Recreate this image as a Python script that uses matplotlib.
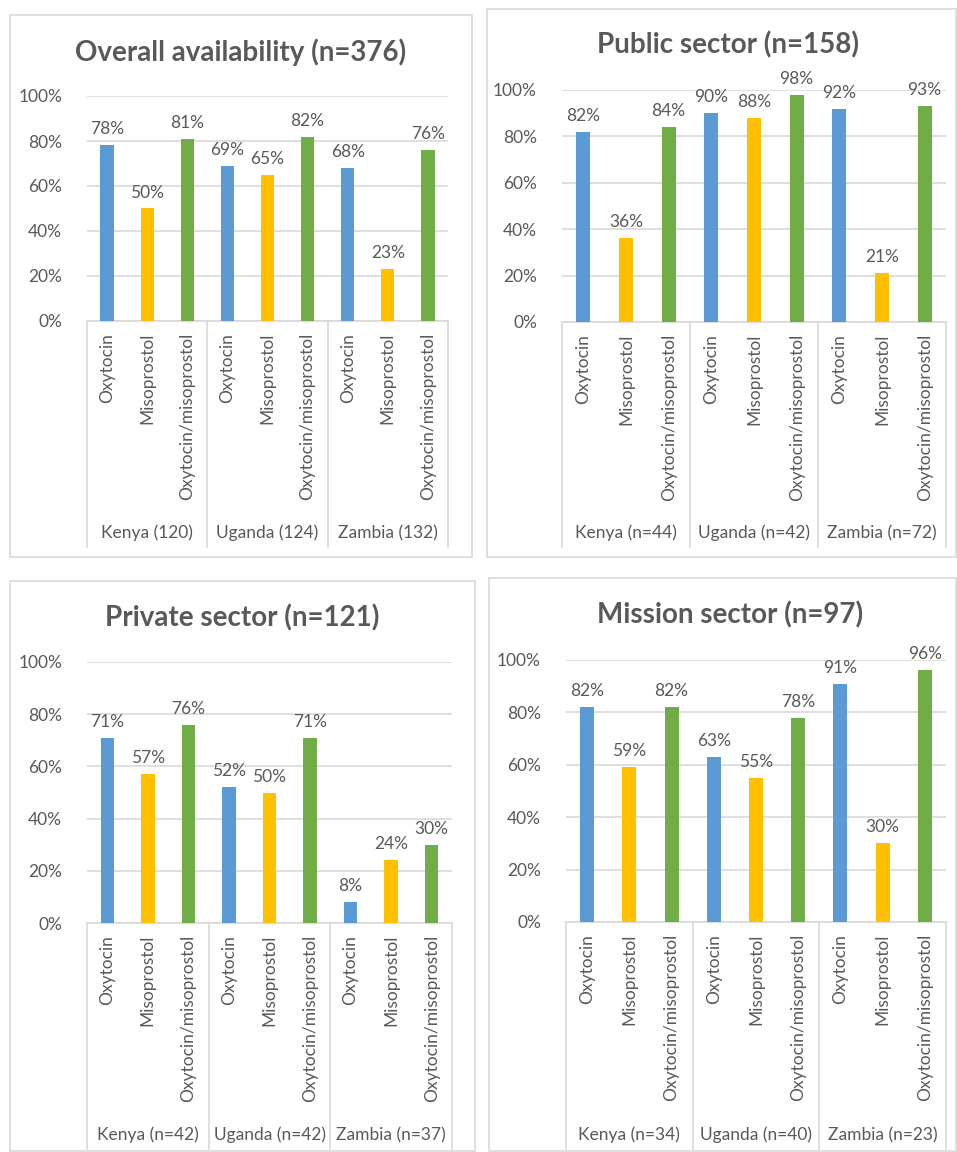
# four Excel-style grouped bar panels: uterotonic availability by country and sector

import matplotlib.pyplot as plt
from matplotlib.patches import Rectangle
from matplotlib.lines import Line2D

plt.rcParams["font.family"] = ["Lato", "DejaVu Sans"]

W, H = 957, 1152

drugs = ["Oxytocin", "Misoprostol", "Oxytocin/misoprostol"]
colors = ["#5B9BD5", "#FFC000", "#70AD47"]

titles = [
    "Overall availability (n=376)",
    "Public sector (n=158)",
    "Private sector (n=121)",
    "Mission sector (n=97)",
]
groups = [
    ["Kenya (120)", "Uganda (124)", "Zambia (132)"],
    ["Kenya (n=44)", "Uganda (n=42)", "Zambia (n=72)"],
    ["Kenya (n=42)", "Uganda (n=42)", "Zambia (n=37)"],
    ["Kenya (n=34)", "Uganda (n=40)", "Zambia (n=23)"],
]

# percent, per country: oxytocin, misoprostol, both
overall = [[78, 50, 81], [69, 65, 82], [68, 23, 76]]
public = [[82, 36, 84], [90, 88, 98], [92, 21, 93]]
private = [[71, 57, 76], [52, 50, 71], [8, 24, 30]]
mission = [[82, 59, 82], [63, 55, 78], [91, 30, 96]]
panels_data = [overall, public, private, mission]

# layout in pixels: box (x0, y0, x1, y1), plot (x0, y0top, x1, y0bottom), title (x, y), separator bottom, group label y
layout = [
    dict(box=(10, 15, 472, 557), plot=(87, 96, 448, 321), title=(241, 52), sep=547, grp=533),
    dict(box=(487, 9, 956, 557), plot=(562, 90, 946, 322), title=(728, 45), sep=547, grp=533),
    dict(box=(10, 581, 475, 1151), plot=(87, 662, 452, 923), title=(242, 618), sep=1149, grp=1135),
    dict(box=(489, 578, 956, 1151), plot=(566, 660, 946, 922), title=(730, 615), sep=1149, grp=1135),
]

TXT = "#595959"
GRID = "#D9D9D9"
FS = 12.5


def fx(x):
    return x / W


def fy(y):
    return 1 - y / H


fig = plt.figure(figsize=(W / 100, H / 100), dpi=100)

for k in range(4):
    L = layout[k]
    bx0, by0, bx1, by1 = L["box"]
    fig.patches.append(Rectangle((fx(bx0), fy(by1)), fx(bx1 - bx0), (by1 - by0) / H,
                                 transform=fig.transFigure, fill=False,
                                 edgecolor=GRID, linewidth=1.2))
    fig.text(fx(L["title"][0]), fy(L["title"][1]), titles[k], ha="center", va="center",
             fontsize=20, fontweight="bold", color=TXT)

    px0, py0, px1, py1 = L["plot"]
    ax = fig.add_axes([fx(px0), fy(py1), fx(px1 - px0), (py1 - py0) / H])
    data = panels_data[k]

    for g in range(3):
        for d in range(3):
            xpos = g * 3 + d
            val = data[g][d]
            ax.bar(xpos, val / 100, width=0.33, color=colors[d], zorder=3)
            ax.annotate(f"{val}%", (xpos, val / 100), xytext=(0, 8), textcoords="offset pixels",
                        ha="center", va="bottom", fontsize=FS, color=TXT,
                        annotation_clip=False)

    ax.set_xlim(-0.5, 8.5)
    ax.set_ylim(0, 1)
    ax.set_yticks([0, 0.2, 0.4, 0.6, 0.8, 1.0])
    ax.set_yticklabels(["0%", "20%", "40%", "60%", "80%", "100%"])
    ax.tick_params(axis="y", length=0, pad=18, labelsize=FS, labelcolor=TXT)
    ax.set_xticks([])
    ax.yaxis.grid(True, color=GRID, linewidth=1.2, zorder=0)
    for s in ax.spines.values():
        s.set_visible(False)

    # category axis: baseline, group separators, rotated labels, country labels
    ax.add_line(Line2D([-0.5, 8.5], [0, 0], color=GRID, linewidth=1.2, zorder=2, clip_on=False))
    sep_bottom = -(L["sep"] - py1) / (py1 - py0)
    for b in range(4):
        ax.add_line(Line2D([b * 3 - 0.5, b * 3 - 0.5], [0, sep_bottom], color=GRID,
                           linewidth=1.2, clip_on=False))
    lab_top = -12 / (py1 - py0)
    grp_y = -(L["grp"] - py1) / (py1 - py0)
    for g in range(3):
        for d in range(3):
            ax.text(g * 3 + d, lab_top, drugs[d], rotation=90, ha="center", va="top",
                    fontsize=FS, color=TXT)
        ax.text(g * 3 + 1, grp_y, groups[k][g], ha="center", va="center",
                fontsize=FS, color=TXT)

fig.savefig("out.png", dpi=100, facecolor="white")
